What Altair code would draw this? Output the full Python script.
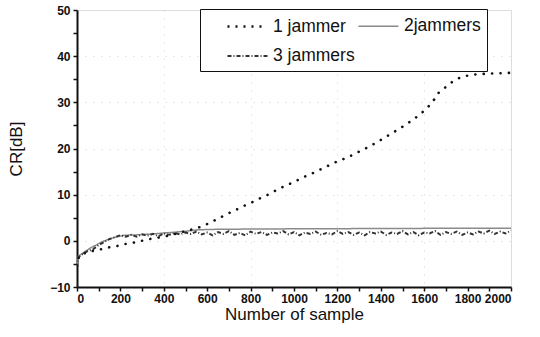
import altair as alt
import pandas as pd

# ---- data ----
j1_x = [0, 10, 40, 80, 114, 149, 187, 221, 260, 298, 336, 375, 420, 460, 500, 540, 574, 613, 650, 690,
        728, 766, 805, 843, 881, 920, 958, 994, 1035, 1074, 1111, 1150, 1189, 1227, 1266, 1304, 1342,
        1381, 1419, 1458, 1496, 1535, 1573, 1608, 1639, 1665, 1699, 1734, 1772, 1811, 1849, 1888, 1950, 2000]
j1_y = [-5.5, -3.2, -2.6, -2.1, -1.8, -1.4, -1.1, -0.7, -0.4, 0.0, 0.4, 0.7, 1.1, 1.6, 2.1, 2.6, 3.1, 3.9, 4.8, 5.8,
        6.6, 7.5, 8.3, 9.2, 10.0, 11.0, 11.9, 12.6, 13.6, 14.4, 15.2, 16.1, 17.0, 17.7, 18.5, 19.4, 20.3,
        21.3, 22.4, 23.5, 24.6, 25.8, 27.1, 28.5, 30.1, 32.0, 33.3, 34.6, 35.5, 35.9, 36.1, 36.2, 36.3, 36.4]

j2_x = [0, 5, 25, 60, 120, 170, 215, 280, 350, 430, 505, 560, 650, 800, 1000, 1300, 1600, 2000]
j2_y = [-5.5, -3.4, -2.7, -1.6, -0.1, 0.7, 1.2, 1.3, 1.5, 1.8, 2.1, 2.4, 2.5, 2.55, 2.6, 2.65, 2.7, 2.75]

j3_x = [0, 5, 25, 50, 75, 100, 125, 150, 175, 200, 225, 250, 275, 300, 325, 350, 375, 400, 425, 450,
        475, 500, 525, 550, 575, 600, 625, 650, 675, 700, 725, 750, 775, 800, 825, 850, 875, 900, 925,
        950, 975, 1000, 1025, 1050, 1075, 1100, 1125, 1150, 1175, 1200, 1225, 1250, 1275, 1300, 1325,
        1350, 1375, 1400, 1425, 1450, 1475, 1500, 1525, 1550, 1575, 1600, 1625, 1650, 1675, 1700, 1725,
        1750, 1775, 1800, 1825, 1850, 1875, 1900, 1925, 1950, 1975, 2000]
j3_y = [-5.8, -3.6, -2.9, -2.2, -1.8, -0.9, -0.3, 0.4, 0.8, 1.2, 0.9, 1.3, 0.9, 1.4, 1.1, 1.5, 1.0, 1.6, 1.3, 1.7,
        1.4, 1.8, 1.5, 2.0, 1.4, 1.8, 1.2, 1.9, 1.5, 2.1, 1.3, 1.7, 1.2, 2.0, 1.5, 1.9, 1.3, 1.8, 1.6,
        2.1, 1.4, 1.9, 1.2, 1.8, 1.5, 2.0, 1.3, 1.7, 1.4, 2.1, 1.5, 1.9, 1.3, 1.8, 1.2,
        1.9, 1.6, 2.0, 1.3, 1.8, 1.5, 2.1, 1.4, 1.9, 1.2, 1.8, 1.6, 2.1, 1.3, 1.9, 1.5,
        2.0, 1.3, 1.8, 1.4, 2.0, 1.6, 2.2, 1.5, 2.0, 1.6, 2.2]

# legend order (column-major in a 2-column legend): 1 jammer / 3 jammers | 2jammers
series_names = ["1 jammer", "3 jammers", "2jammers"]
x_ticks = list(range(0, 2001, 100))
y_ticks = list(range(-10, 51, 5))

rows = []
for name, xs, ys in [("1 jammer", j1_x, j1_y), ("2jammers", j2_x, j2_y), ("3 jammers", j3_x, j3_y)]:
    for i, (a, b) in enumerate(zip(xs, ys)):
        rows.append({"series": name, "x": a, "y": b, "order": i})
df = pd.DataFrame(rows)

FONT = "Liberation Sans"

x_axis = alt.Axis(
    values=x_ticks, format="d", title="Number of sample",
    labelExpr="datum.value % 200 === 0 ? datum.label : ''",
    labelFont=FONT, labelFontSize=12, labelFontWeight="bold", labelColor="#111",
    titleFont=FONT, titleFontSize=17, titleFontWeight="normal", titleColor="#111", titlePadding=2,
    domainColor="#111", domainWidth=2, tickColor="#111", tickSize=4, tickWidth=1.5, labelPadding=2,
    grid=True, gridColor="#aaa", gridDash=[1, 7], gridWidth=1,
    gridOpacity={"condition": {"test": "datum.value % 400 === 0 && datum.value > 0 && datum.value < 2000", "value": 0.5}, "value": 0},
)
y_axis = alt.Axis(
    values=y_ticks, format="d", title="CR[dB]",
    labelExpr="datum.value % 10 === 0 ? datum.label : ''",
    labelFont=FONT, labelFontSize=12, labelFontWeight="bold", labelColor="#111",
    titleFont=FONT, titleFontSize=17, titleFontWeight="normal", titleColor="#111", titlePadding=24,
    domainColor="#111", domainWidth=2, tickColor="#111", tickSize=4, tickWidth=1.5, labelPadding=3,
    grid=True, gridColor="#aaa", gridDash=[1, 7], gridWidth=1,
    gridOpacity={"condition": {"test": "datum.value % 10 === 0 && datum.value > -10 && datum.value < 50", "value": 0.5}, "value": 0},
)

NB = "\u00a0" * 9
legend = alt.Legend(
    title="\u00a0", titleOrient="left", titleFontSize=1, titlePadding=21,
    orient="none", legendX=123, legendY=-1, columns=2, gridAlign="each",
    symbolType="M-2,0H2", symbolSize=400, symbolStrokeWidth=2, symbolOffset=9,
    labelFont=FONT, labelFontSize=17.5, labelColor="#111", labelOffset=14, labelLimit=300,
    labelExpr=f"datum.label === '2jammers' ? '2jammers{NB}' : datum.label",
    columnPadding=0, rowPadding=10, padding=6,
    strokeColor="#111", fillColor="white",
)

color_scale = alt.Scale(domain=series_names, range=["#111111", "#333333", "#8a8a8a"])
dash_scale = alt.Scale(domain=series_names, range=[[2, 6], [4, 2, 1, 2], [1, 0]])
width_scale = alt.Scale(domain=series_names, range=[2.4, 1.5, 1.0])

xenc = alt.X("x:Q", scale=alt.Scale(domain=[0, 2000], nice=False), axis=x_axis)
yenc = alt.Y("y:Q", scale=alt.Scale(domain=[-10, 50], nice=False), axis=y_axis)

others = alt.Chart(df).transform_filter("datum.series !== '1 jammer'").mark_line(clip=True).encode(
    x=xenc, y=yenc,
    color=alt.Color("series:N", scale=color_scale, legend=legend),
    strokeDash=alt.StrokeDash("series:N", scale=dash_scale, legend=legend),
    strokeWidth=alt.StrokeWidth("series:N", scale=width_scale, legend=None),
    order="order:Q",
)

dotted = alt.Chart(df).transform_filter("datum.series === '1 jammer'").mark_line(
    clip=True, strokeCap="round", strokeDash=[0.1, 8.3], strokeWidth=2.6, color="#111111"
).encode(x=xenc, y=yenc, order="order:Q")

chart = alt.layer(others, dotted).properties(
    width=434, height=277,
    padding={"left": 77, "top": 10, "right": 29, "bottom": 50},
    autosize=alt.AutoSizeParams(type="none"),
).configure_view(stroke="#111", strokeWidth=1).configure(background="white")

chart.save("out.html", embed_options={"renderer": "svg", "actions": False})
